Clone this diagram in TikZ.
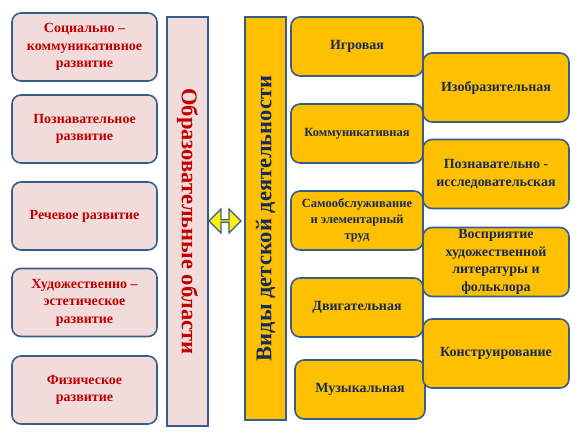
\documentclass[tikz,border=0pt]{standalone}
\usepackage{fontspec}
\setmainfont{Liberation Serif}
\usetikzlibrary{shapes.arrows}
\definecolor{area_pink}{RGB}{242,220,219}
\definecolor{area_red}{RGB}{192,0,0}
\definecolor{kind_gold}{RGB}{255,192,0}
\definecolor{kind_navy}{RGB}{23,43,90}
\definecolor{edge_blue}{RGB}{56,93,138}

\begin{document}
\begin{tikzpicture}[x=1pt,y=-1pt,line width=1.6pt]
    \tikzstyle{area}=[draw=edge_blue, rounded corners=9pt, fill=area_pink, text=area_red, minimum width=145pt, minimum height=68pt, align=center, font=\bfseries\fontsize{14}{17.5}\selectfont]
    \tikzstyle{kind}=[draw=edge_blue, rounded corners=9pt, fill=kind_gold, text=kind_navy, minimum width=132pt, minimum height=59pt, inner sep=1pt, align=center, font=\bfseries\fontsize{14}{17.5}\selectfont]
    \tikzstyle{kindsmall}=[kind, font=\bfseries\fontsize{12.5}{16}\selectfont]
    \tikzstyle{kindwide}=[kind, minimum width=146pt, minimum height=69pt]
    \tikzstyle{bar}=[draw=edge_blue, minimum height=41pt, inner sep=0pt, font=\bfseries\fontsize{22.5}{26}\selectfont]
    \useasboundingbox (0,0) rectangle (581,436);

    % educational areas
    \node[area] (social)   at (84.5,47)   {Социально –\\коммуникативное\\развитие};
    \node[area] (cogn)     at (84.5,129)  {Познавательное\\развитие};
    \node[area] (speech)   at (84.5,216)  {Речевое развитие};
    \node[area] (art)      at (84.5,302.5){Художественно –\\эстетическое\\развитие};
    \node[area] (phys)     at (84.5,390)  {Физическое\\развитие};

    % the two bars
    \node[bar, fill=area_pink, text=area_red, minimum width=409pt, rotate=-90] (areas) at (187.5,221.5) {Образовательные области};
    \node[bar, fill=kind_gold, text=kind_navy, minimum width=403pt, rotate=90]  (kinds) at (265.5,218.5) {Виды детской деятельности};

    % kinds of activity
    \node[kind] (play)        at (357,46.5)  {Игровая};
    \node[kindsmall] (comm)   at (357,133.5) {Коммуникативная};
    \node[kindsmall] (self)   at (357,220.5) {Самообслуживание\\и элементарный\\труд};
    \node[kind] (motor)       at (357,307.5) {Двигательная};
    \node[kind, minimum width=130pt] (music) at (360,389.5) {Музыкальная};
    \node[kindwide] (fine)    at (496,87.5)  {Изобразительная};
    \node[kindwide] (explore) at (496,174)   {Познавательно -\\исследовательская};
    \node[kindwide] (fiction) at (496,262)   {Восприятие\\художественной\\литературы и\\фольклора};
    \node[kindwide] (build)   at (496,353.5) {Конструирование};

    % link between the bars
    \node[double arrow, draw=edge_blue, fill=yellow, line width=1.2pt, minimum width=24pt, minimum height=32pt, double arrow head extend=5pt, inner sep=0pt] (link) at (225,221) {};
\end{tikzpicture}
\end{document}
